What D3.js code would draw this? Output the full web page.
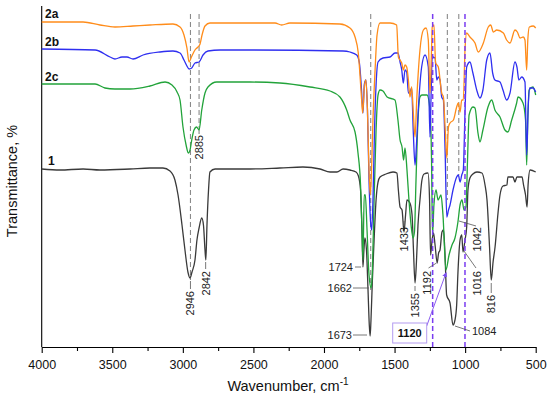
<!DOCTYPE html>
<html><head><meta charset="utf-8">
<script src="https://cdn.jsdelivr.net/npm/d3@7/dist/d3.min.js"></script>
<style>
html,body{margin:0;padding:0;background:#fff;}
svg{display:block;font-family:Arial,"Liberation Sans",sans-serif;}
</style></head>
<body>
<svg id="chart" width="550" height="398"></svg>
<script>
// Spectra: [wavenumber (cm-1), transmittance (arbitrary offset units)]
const spectrum1 = [[4000,178],[3870,177],[3707,178],[3587,177],[3374,178],[3233,179],[3141,179],[3091,176],[3056,167],[3034,152],[3006,122],[2985,97],[2964,75],[2949,69],[2935,75],[2914,87],[2900,107],[2885,119],[2866,129],[2854,122],[2843,97],[2837,87],[2829,122],[2818,157],[2808,175],[2772,178],[2524,178],[2312,179],[2149,180],[2028,178],[1957,175],[1908,175],[1865,178],[1816,177],[1773,175],[1756,171],[1741,157],[1731,117],[1724,80],[1717,97],[1710,109],[1699,97],[1688,57],[1679,22],[1673,11],[1667,27],[1657,67],[1645,107],[1631,147],[1617,165],[1603,170],[1561,173],[1511,175],[1483,174],[1473,157],[1461,140],[1447,137],[1433,115],[1422,132],[1412,147],[1391,144],[1376,132],[1366,97],[1355,64],[1345,85],[1334,122],[1320,147],[1306,167],[1291,173],[1263,174],[1252,147],[1245,92],[1234,107],[1224,114],[1213,102],[1198,84],[1188,94],[1178,97],[1164,115],[1153,117],[1143,94],[1131,52],[1107,44],[1086,22],[1072,27],[1060,42],[1051,74],[1036,107],[1024,112],[1015,95],[1001,107],[989,120],[980,157],[966,169],[945,173],[916,175],[881,174],[859,162],[845,147],[827,100],[815,67],[802,85],[788,100],[767,134],[753,152],[732,161],[704,162],[697,170],[661,170],[647,165],[633,170],[597,170],[586,162],[572,152],[561,140],[554,162],[540,177],[500,175]];

const spectrum2c = [[4000,263],[3622,263],[3552,259],[3481,258],[3374,258],[3233,261],[3126,265],[3077,262],[3041,255],[3020,247],[2999,220],[2977,202],[2961,194],[2949,197],[2937,207],[2921,217],[2903,220],[2885,217],[2866,237],[2843,254],[2822,260],[2760,265],[2524,265],[2312,264],[2099,260],[1957,256],[1887,250],[1839,237],[1816,227],[1780,215],[1759,194],[1741,162],[1731,117],[1724,87],[1715,152],[1707,152],[1695,117],[1681,72],[1666,59],[1657,77],[1645,147],[1631,217],[1617,252],[1603,257],[1582,256],[1553,250],[1497,247],[1476,227],[1461,207],[1447,200],[1436,187],[1426,199],[1412,177],[1398,147],[1383,122],[1369,109],[1359,115],[1348,167],[1334,227],[1320,250],[1306,252],[1270,252],[1249,237],[1238,187],[1231,112],[1221,142],[1206,157],[1192,147],[1171,152],[1157,132],[1136,77],[1114,92],[1093,102],[1072,109],[1051,125],[1036,142],[1022,147],[1008,137],[994,140],[983,187],[972,232],[945,240],[930,239],[909,214],[895,205],[874,217],[838,240],[812,247],[789,237],[753,230],[718,217],[697,215],[670,227],[635,244],[625,250],[590,244],[572,227],[564,182],[556,227],[547,257],[519,260],[500,252]];

const spectrum2b = [[4000,298],[3622,297],[3516,290],[3481,288],[3431,290],[3396,290],[3353,288],[3282,292],[3162,295],[3070,296],[3020,294],[2992,287],[2971,281],[2956,278],[2937,279],[2914,284],[2885,285],[2857,292],[2822,296],[2736,297],[2524,297],[1865,296],[1816,295],[1768,292],[1749,284],[1734,257],[1724,234],[1714,263],[1703,267],[1692,237],[1681,167],[1670,125],[1662,117],[1653,147],[1642,217],[1631,262],[1617,285],[1582,289],[1532,290],[1497,294],[1476,294],[1461,285],[1449,277],[1438,264],[1426,277],[1414,275],[1402,254],[1391,255],[1379,259],[1367,214],[1355,182],[1343,207],[1332,237],[1308,280],[1284,292],[1261,280],[1249,210],[1242,247],[1233,290],[1213,289],[1201,267],[1190,270],[1178,267],[1166,250],[1154,247],[1142,197],[1130,130],[1118,137],[1107,142],[1086,157],[1060,170],[1048,172],[1036,165],[1024,172],[1013,177],[1001,234],[989,280],[966,285],[945,274],[918,257],[895,249],[874,257],[847,287],[824,294],[805,274],[789,267],[753,265],[732,257],[706,247],[682,254],[647,285],[633,280],[619,267],[599,270],[576,265],[564,192],[554,237],[543,259],[519,259],[500,255]];

const spectrum2a = [[4000,325],[3707,325],[3587,322],[3481,320],[3353,321],[3233,322],[3070,323],[3020,320],[2992,312],[2971,299],[2956,285],[2939,290],[2914,297],[2893,300],[2878,303],[2864,312],[2843,321],[2808,324],[2524,324],[2347,324],[2300,322],[2241,324],[1887,323],[1816,319],[1780,310],[1757,294],[1733,247],[1726,234],[1714,260],[1703,267],[1692,237],[1681,177],[1672,152],[1663,177],[1653,227],[1638,277],[1624,312],[1603,324],[1532,324],[1485,322],[1473,290],[1461,287],[1449,284],[1438,277],[1426,282],[1414,280],[1402,267],[1391,250],[1379,260],[1367,234],[1355,210],[1343,247],[1320,297],[1296,317],[1277,319],[1261,307],[1249,254],[1240,287],[1233,320],[1221,322],[1209,284],[1190,280],[1166,254],[1154,250],[1142,220],[1130,189],[1118,220],[1107,224],[1083,227],[1060,240],[1048,244],[1036,235],[1024,247],[1013,247],[1001,297],[989,314],[966,310],[930,304],[907,295],[871,304],[836,320],[819,322],[800,315],[776,317],[729,314],[706,307],[682,304],[647,317],[630,315],[611,309],[588,310],[576,307],[564,277],[556,307],[545,320],[517,321],[500,319]];

const seriesNames = ["1","2c","2b","2a"];
const seriesColors = ["#3a3a3a","#22a33a","#2f2ff0","#ff8c1a"];
const seriesData = [spectrum1, spectrum2c, spectrum2b, spectrum2a];

const xTicks = [4000,3500,3000,2500,2000,1500,1000,500];
const xMinorTicks = [3750,3250,2750,2250,1750,1250,750];

// reference band positions (cm-1)
const grayBands = [2946, 2885, 1669, 1126, 1045];
const grayBandBottoms = [67, 216, 57, 147, 172];
const purpleBands = [1230, 1001];

// peak labels: [label, wavenumber, transmittance]
const peakLabels = ["2946","2885","2842","1724","1662","1673","1433","1355","1192","1042","1016","1084","816"];

const svg = d3.select("#chart");
const x = d3.scaleLinear().domain([4000,500]).range([41.7,535.7]);
const y = d3.scaleLinear().domain([0,341]).range([347,6]);

// axes
const xAxis = svg.append("g").attr("transform","translate(0,347)")
  .call(d3.axisBottom(x).tickValues(xTicks).tickSize(6).tickSizeOuter(0).tickFormat(d3.format("d")));
xAxis.select(".domain").attr("stroke","#000").attr("stroke-width",1.1);
xAxis.selectAll(".tick line").attr("stroke","#000").attr("stroke-width",1.1);
xAxis.selectAll(".tick text").attr("font-size","12.5px").attr("fill","#111").attr("dy","1.05em")
  .attr("font-family","Arial,'Liberation Sans',sans-serif");
svg.append("g").attr("transform","translate(0,347)")
  .call(d3.axisBottom(x).tickValues(xMinorTicks).tickSize(4).tickFormat(""))
  .call(g=>{g.select(".domain").remove(); g.selectAll(".tick line").attr("stroke","#000").attr("stroke-width",1.1);});
svg.append("line").attr("x1",x(4000)).attr("x2",x(4000)).attr("y1",y(341)).attr("y2",y(0))
  .attr("stroke","#000").attr("stroke-width",1.1);

// dashed reference lines
grayBands.forEach((w,i)=>{
  svg.append("line").attr("x1",x(w)).attr("x2",x(w)).attr("y1",y(333)).attr("y2",y(grayBandBottoms[i]))
    .attr("stroke","#8a8a8a").attr("stroke-width",1.1).attr("stroke-dasharray","5,3");
});

// spectra
const line = d3.line().x(d=>x(d[0])).y(d=>y(d[1])).curve(d3.curveMonotoneX);
seriesData.forEach((s,i)=>{
  svg.append("path").datum(s).attr("d",line).attr("fill","none")
    .attr("stroke",seriesColors[i]).attr("stroke-width",1.3).attr("stroke-linejoin","round");
});

purpleBands.forEach(w=>{
  svg.append("line").attr("x1",x(w)).attr("x2",x(w)).attr("y1",y(333)).attr("y2",y(0))
    .attr("stroke","#7a3cf0").attr("stroke-width",1.5).attr("stroke-dasharray","5,3");
});

// series labels
const seriesLabelPos = {"2a":[45,18],"2b":[45,46],"2c":[45,81],"1":[48,165]};
seriesNames.forEach(n=>{
  svg.append("text").attr("x",seriesLabelPos[n][0]).attr("y",seriesLabelPos[n][1])
    .attr("font-size","12px").attr("font-weight","bold").attr("fill","#111").text(n);
});

// peak annotations
const ann = svg.append("g").attr("font-size","11px").attr("fill","#222");
const lead = (x1,y1,x2,y2)=>svg.append("line").attr("x1",x1).attr("y1",y1).attr("x2",x2).attr("y2",y2)
  .attr("stroke","#555").attr("stroke-width",0.8);
function vlabel(t,cx,top){
  ann.append("text").attr("transform",`translate(${cx},${top}) rotate(-90)`)
    .attr("text-anchor","end").attr("dy","0.35em").text(t);
}
function hlabel(t,xx,cy,anchor){
  ann.append("text").attr("x",xx).attr("y",cy).attr("dy","0.35em").attr("text-anchor",anchor).text(t);
}
// 2946
vlabel(peakLabels[0], x(2946), 291); lead(x(2946),281,x(2946),289);
// 2885
vlabel(peakLabels[1], x(2885), 135); lead(x(2885),131,x(2885),134);
// 2842
vlabel(peakLabels[2], x(2842)+0.5, 271); lead(x(2842)+0.5,262,x(2842)+0.5,269);
// 1724, 1662, 1673
hlabel(peakLabels[3], 353, 267, "end"); lead(355,267,361,267);
hlabel(peakLabels[4], 352, 288, "end"); lead(353,288,369,288);
hlabel(peakLabels[5], 352, 335, "end"); lead(353,335,367,335);
// 1433, 1355
vlabel(peakLabels[6], 404, 227); lead(404,221,404,226);
vlabel(peakLabels[7], x(1355), 293); lead(x(1355),286,x(1355),291);
// 1192
vlabel(peakLabels[8], 427, 271); lead(428.5,268,436.5,263);
// 1042, 1016
vlabel(peakLabels[9], 477, 227); lead(476,226,459,221);
vlabel(peakLabels[10], 477, 271); lead(476,268,464,251);
// 1084
hlabel(peakLabels[11], 472, 331, "start"); lead(455,326,470,331);
// 816
vlabel(peakLabels[12], x(815), 295); lead(x(815),283,x(815),293);

// 1120 box with arrow
svg.append("defs").append("marker").attr("id","arr").attr("viewBox","0 0 10 10").attr("refX",8).attr("refY",5)
  .attr("markerWidth",5).attr("markerHeight",5).attr("orient","auto")
  .append("path").attr("d","M0,0L10,5L0,10z").attr("fill","#7a4cf0");
svg.append("line").attr("x1",426.7).attr("y1",326).attr("x2",446).attr("y2",273)
  .attr("stroke","#8a5cf0").attr("stroke-width",1).attr("marker-end","url(#arr)");
svg.append("rect").attr("x",392.7).attr("y",323).attr("width",34).attr("height",20)
  .attr("fill","#fff").attr("stroke","#b49cf0").attr("stroke-width",1);
svg.append("text").attr("x",409.7).attr("y",333).attr("dy","0.35em").attr("text-anchor","middle")
  .attr("font-size","11px").attr("font-weight","bold").attr("fill","#111").text("1120");

// axis titles
svg.append("text").attr("transform","translate(17,181) rotate(-90)").attr("text-anchor","middle")
  .attr("font-size","14.5px").attr("fill","#111").text("Transmittance, %");
const xt = svg.append("text").attr("x",288).attr("y",391).attr("text-anchor","middle")
  .attr("font-size","14.5px").attr("fill","#111");
xt.append("tspan").text("Wavenumber, cm");
xt.append("tspan").attr("dy","-6").attr("font-size","10px").text("-1");
</script>
</body></html>
